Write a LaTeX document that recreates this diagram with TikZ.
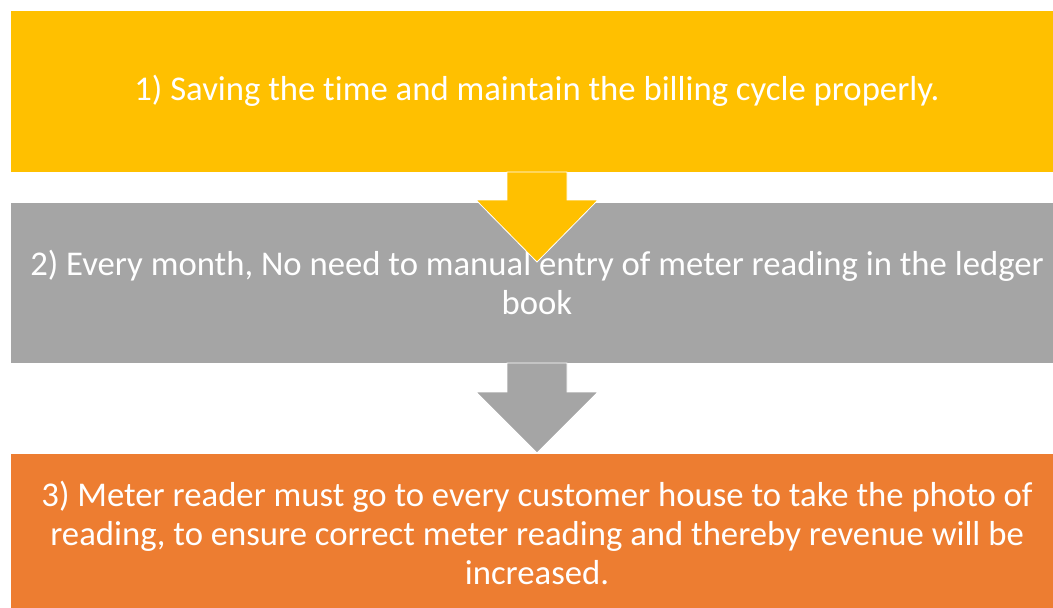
\documentclass[tikz,border=0pt]{standalone}
\usepackage{fontspec}
\setmainfont[Ligatures={NoCommon}]{Carlito}
\usetikzlibrary{calc}
\definecolor{boxyellow}{HTML}{FFC000}
\definecolor{boxgrey}{HTML}{A5A5A5}
\definecolor{boxorange}{HTML}{ED7D31}
\begin{document}
\begin{tikzpicture}[x=1pt, y=-1pt,
  every node/.style={font=\fontsize{34.7}{39}\selectfont, text=white, align=center},
  stepbox/.style={draw=white, line width=0.8pt, inner sep=0pt, outer sep=0pt, minimum width=1054pt},
  downarrow/.style={draw=white, line width=0.8pt, line join=miter}]
  \useasboundingbox (0,0) rectangle (1053,608);

  \node[stepbox, fill=boxyellow, minimum height=162pt] (save) at (537,91)
    {1) Saving the time and maintain the billing cycle properly.};
  \node[stepbox, fill=boxgrey, minimum height=161pt] (ledger) at (537,282.5)
    {2) Every month, No need to manual entry of meter reading in the ledger\\book};

  \filldraw[boxyellow, downarrow] ($(save.south)+(-30,0)$) -- ++(0,28) -- ++(-31,0)
    -- ($(save.south)+(0,90)$) -- ($(save.south)+(61,28)$) -- ++(-31,0) -- ++(0,-28) -- cycle;

  \node[stepbox, fill=boxorange, minimum height=160pt] (reader) at (537,533)
    {3) Meter reader must go to every customer house to take the photo of\\
     reading, to ensure correct meter reading and thereby revenue will be\\
     increased.};

  \filldraw[boxgrey, downarrow] ($(ledger.south)+(-30,0)$) -- ++(0,29) -- ++(-31,0)
    -- (reader.north) -- ($(ledger.south)+(61,29)$) -- ++(-31,0) -- ++(0,-29) -- cycle;
\end{tikzpicture}
\end{document}
